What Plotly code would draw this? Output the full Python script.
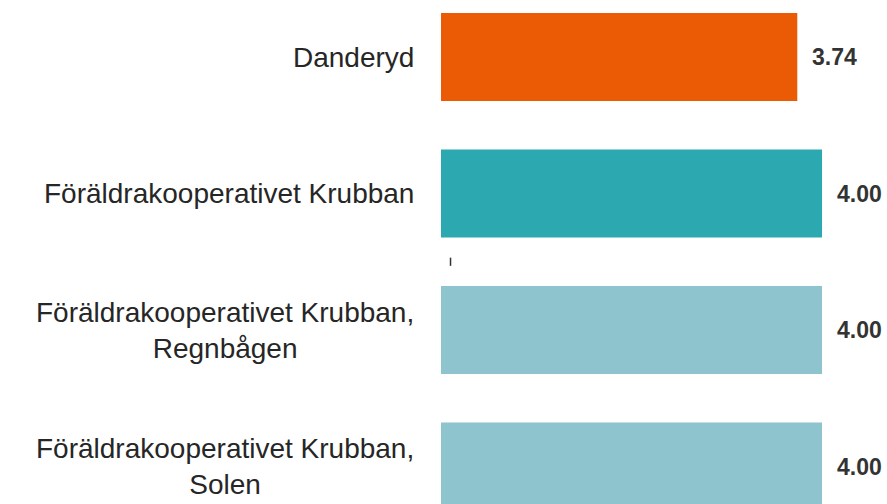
import plotly.graph_objects as go

categories = [
    "Danderyd",
    "Föräldrakooperativet Krubban",
    "Föräldrakooperativet Krubban,<br>Regnbågen",
    "Föräldrakooperativet Krubban,<br>Solen",
]
values = [3.74, 4.00, 4.00, 4.00]
value_labels = ["3.74", "4.00", "4.00", "4.00"]
bar_colors = ["#EB5A04", "#2BA8B0", "#8DC4CD", "#8DC4CD"]

fig = go.Figure()
fig.add_trace(go.Bar(
    x=values,
    y=categories,
    orientation="h",
    marker=dict(color=bar_colors, line=dict(width=0)),
    width=0.645,
    hoverinfo="skip",
))

annotations = []
for cat, val, lab in zip(categories, values, value_labels):
    annotations.append(dict(
        x=0, y=cat, xref="x", yref="y", text=cat, showarrow=False,
        xanchor="right", yanchor="middle", align="center", xshift=-25,
        font=dict(family="Liberation Sans, Arial, sans-serif", size=28, color="#262626"),
    ))
    annotations.append(dict(
        x=val, y=cat, xref="x", yref="y", text="<b>" + lab + "</b>", showarrow=False,
        xanchor="left", yanchor="middle", xshift=13,
        font=dict(family="Liberation Sans, Arial, sans-serif", size=23, color="#333333"),
    ))

fig.update_layout(
    width=887, height=504,
    margin=dict(l=441, r=0, t=0, b=0),
    paper_bgcolor="white", plot_bgcolor="white",
    showlegend=False,
    annotations=annotations,
    xaxis=dict(range=[0, 4.682], visible=False, fixedrange=True),
    yaxis=dict(range=[3.2747, -0.4176], showticklabels=False, showgrid=False,
               zeroline=False, showline=False, ticks="", fixedrange=True),
    shapes=[dict(type="line", xref="x", yref="y", x0=0.1, x1=0.1, y0=1.47, y1=1.53,
                 line=dict(color="#333333", width=1.5))],
)

fig.write_html(
    "out.html",
    config={"displayModeBar": False},
    post_script="document.body.style.margin='0';document.body.style.overflow='hidden';",
)
